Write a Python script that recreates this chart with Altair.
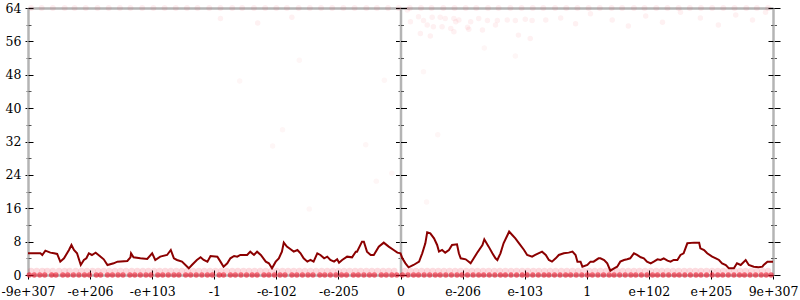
import altair as alt
import pandas as pd

# ---------------- data ----------------
x_labels = ["-9e+307", "-e+206", "-e+103", "-1", "-e-102", "-e-205", "0",
            "e-206", "e-103", "1", "e+102", "e+205", "9e+307"]
x_ticks = [-6, -5, -4, -3, -2, -1, 0, 1, 2, 3, 4, 5, 6]
y_ticks = [0, 4, 8, 12, 16, 20, 24, 28, 32, 36, 40, 44, 48, 52, 56, 60, 64]

line_x = [-6.0, -5.80, -5.77, -5.72, -5.64, -5.58, -5.53, -5.48, -5.42, -5.34,
          -5.30, -5.26, -5.21, -5.15, -5.10, -5.06, -5.02, -4.97, -4.91, -4.83,
          -4.78, -4.72, -4.62, -4.56, -4.40, -4.35, -4.34, -4.30, -4.19, -4.08,
          -4.00, -3.95, -3.87, -3.76, -3.70, -3.65, -3.60, -3.52, -3.41, -3.36,
          -3.28,
          -3.22, -3.17, -3.11, -3.06, -2.95, -2.90, -2.85, -2.79, -2.74, -2.68,
          -2.63, -2.58, -2.47, -2.42, -2.36, -2.31, -2.25, -2.17, -2.12, -2.07,
          -2.01, -1.96, -1.91, -1.88, -1.83, -1.77, -1.72, -1.66, -1.61, -1.56,
          -1.50, -1.45, -1.40, -1.34, -1.29, -1.23, -1.18, -1.13, -1.07, -1.02,
          -0.99, -0.94, -0.86, -0.78, -0.72, -0.70, -0.62, -0.59, -0.54, -0.48,
          -0.43, -0.35, -0.27, -0.19, -0.11, -0.05, 0.0,
          0.03, 0.08, 0.13, 0.21, 0.30, 0.35, 0.40, 0.43, 0.48, 0.54,
          0.59, 0.62, 0.67, 0.72, 0.78, 0.83, 0.91, 0.94, 0.97, 1.05,
          1.10, 1.13, 1.18, 1.23, 1.32, 1.35, 1.42, 1.48, 1.53, 1.56,
          1.61, 1.66, 1.75, 1.80, 1.85, 1.91, 1.99, 2.04, 2.12, 2.17,
          2.28, 2.34, 2.39, 2.44, 2.50, 2.55, 2.63, 2.71, 2.77, 2.82,
          2.85, 2.90, 2.93, 3.01, 3.06, 3.11, 3.19,
          3.22, 3.28, 3.33, 3.38, 3.44, 3.49, 3.54, 3.60, 3.65, 3.70,
          3.76, 3.81, 3.87, 3.92, 3.97, 4.03, 4.08, 4.14, 4.19, 4.24,
          4.30, 4.35, 4.40, 4.46, 4.51, 4.56, 4.62, 4.73, 4.81, 4.83,
          4.89, 4.94, 5.02, 5.08, 5.13, 5.18, 5.24, 5.29, 5.37, 5.42,
          5.48, 5.56, 5.61, 5.69, 5.77, 5.83, 5.85, 5.91, 6.0]
line_y = [5.2, 5.2, 4.8, 5.84, 5.36, 5.2, 5.04, 3.2, 4.0, 6.0,
          7.2, 6.0, 5.2, 2.4, 3.6, 4.0, 5.2, 4.8, 5.36, 4.4,
          3.76, 2.4, 2.8, 3.2, 3.36, 4.24, 5.2, 4.24, 4.0, 3.84,
          5.2, 3.6, 4.4, 4.8, 6.0, 4.0, 3.6, 3.2, 1.6, 2.4,
          3.6,
          4.24, 3.6, 3.2, 4.56, 4.4, 3.2, 2.0, 2.8, 4.0, 4.56,
          4.4, 4.8, 4.8, 5.6, 4.8, 5.6, 4.8, 3.2, 2.8, 1.6,
          3.2, 4.0, 5.6, 7.76, 6.8, 6.16, 5.6, 6.0, 5.2, 4.0,
          3.2, 3.6, 3.2, 5.2, 4.8, 4.0, 4.4, 3.6, 3.2, 3.76,
          2.96, 3.6, 4.4, 4.24, 5.6, 5.6, 8.0, 8.0, 5.6, 4.8,
          4.8, 6.8, 7.76, 6.8, 6.0, 5.36, 5.2,
          4.0, 2.8, 1.84, 2.4, 3.2, 5.2, 7.6, 10.24, 10.0, 8.8,
          7.2, 5.6, 6.0, 5.36, 6.0, 7.2, 7.36, 5.2, 4.0, 3.76,
          3.2, 2.8, 4.0, 5.2, 7.2, 8.56, 6.8, 5.2, 4.0, 3.6,
          5.2, 7.6, 10.4, 9.6, 8.8, 7.6, 6.0, 4.8, 4.4, 4.8,
          5.6, 4.8, 3.6, 3.2, 4.0, 4.8, 5.2, 5.36, 5.6, 4.8,
          3.2, 3.2, 2.0, 2.4, 3.2, 3.2, 4.0,
          4.0, 3.6, 2.8, 1.04, 1.6, 2.0, 3.2, 3.6, 3.76, 4.0,
          5.2, 4.8, 4.24, 4.0, 3.2, 2.8, 3.2, 3.76, 3.6, 4.0,
          3.44, 3.2, 3.6, 3.6, 4.8, 5.2, 7.6, 7.76, 7.76, 6.4,
          6.0, 5.2, 4.4, 4.0, 3.6, 2.8, 2.4, 1.6, 1.6, 2.8,
          2.4, 3.6, 2.4, 2.0, 1.84, 2.0, 2.4, 3.2, 3.2]

# samples whose value is 0
zero_x = [-5.98, -5.9, -5.81, -5.73, -5.62, -5.55, -5.44, -5.36, -5.27, -5.18,
          -5.09, -5.01, -4.9, -4.83, -4.72, -4.64, -4.55, -4.47, -4.36, -4.28,
          -4.19, -4.1, -4.02, -3.91, -3.83, -3.74, -3.65, -3.57, -3.46, -3.38,
          -3.29, -3.2, -3.11, -3.03, -2.92, -2.85, -2.74, -2.66, -2.57, -2.48,
          -2.39, -2.31, -2.2, -2.12, -2.03, -1.94, -1.86, -1.75, -1.67, -1.58,
          -1.49, -1.41, -1.3, -1.22, -1.13, -1.04, -0.95, -0.87, -0.76, -0.68,
          -0.59, -0.5, -0.42, -0.31, -0.23, -0.14, -0.06, 0.03, 0.12, 0.21,
          0.29, 0.38, 0.47, 0.56, 0.64, 0.73, 0.82, 0.91, 0.99, 1.08,
          1.17, 1.26, 1.34, 1.43, 1.52, 1.61, 1.69, 1.78, 1.87, 1.96,
          2.04, 2.13, 2.22, 2.31, 2.39, 2.48, 2.57, 2.66, 2.74, 2.83,
          2.92, 3.01, 3.09, 3.18, 3.27, 3.36, 3.44, 3.53, 3.62, 3.71,
          3.79, 3.88, 3.97, 4.06, 4.14, 4.23, 4.32, 4.41, 4.49, 4.58,
          4.67, 4.76, 4.84, 4.93, 5.02, 5.11, 5.19, 5.28, 5.37, 5.46,
          5.54, 5.63, 5.72, 5.81, 5.89, 5.97]
# samples whose value is 1
one_x = [-5.95, -5.86, -5.77, -5.69, -5.6, -5.5, -5.41, -5.33, -5.23, -5.14,
         -5.05, -4.96, -4.87, -4.78, -4.69, -4.6, -4.51, -4.42, -4.33, -4.24,
         -4.15, -4.06, -3.97, -3.88, -3.79, -3.7, -3.61, -3.52, -3.43, -3.34,
         -3.25, -3.16, -3.07, -2.98, -2.89, -2.8, -2.71, -2.62, -2.53, -2.44,
         -2.35, -2.26, -2.17, -2.08, -1.99, -1.9, -1.81, -1.72, -1.63, -1.54,
         -1.45, -1.36, -1.27, -1.18, -1.09, -1.0, -0.91, -0.82, -0.73, -0.64,
         -0.55, -0.46, -0.37, -0.28, -0.19, -0.1, 0.07, 0.16, 0.25, 0.34,
         0.43, 0.52, 0.61, 0.7, 0.79, 0.88, 0.97, 1.06, 1.15, 1.24,
         1.33, 1.42, 1.51, 1.6, 1.69, 1.78, 1.87, 1.96, 2.05, 2.14,
         2.23, 2.32, 2.41, 2.5, 2.59, 2.68, 2.77, 2.86, 2.95, 3.04,
         3.13, 3.22, 3.31, 3.4, 3.49, 3.58, 3.67, 3.76, 3.85, 3.94,
         4.03, 4.12, 4.21, 4.3, 4.39, 4.48, 4.57, 4.66, 4.75, 4.84,
         4.93, 5.02, 5.11, 5.2, 5.29, 5.38, 5.47, 5.56, 5.65, 5.74,
         5.83, 5.92]
# samples whose value is 64
top_row_x = [-5.95, -5.78, -5.6, -5.41, -5.25, -5.07, -4.88, -4.7, -4.52, -4.35,
             -4.16, -3.98, -3.8, -3.62, -3.44, -3.27, -3.08, -2.9, -2.71, -2.55,
             -2.36, -2.18, -2.0, -1.83, -1.64, -1.46, -1.28, -1.1, -0.92, -0.74,
             -0.55, -0.38, -0.2, -0.03, 0.15, 0.33, 0.5, 0.69, 0.87, 1.05,
             1.22, 1.41, 1.58, 1.77, 1.95, 2.13, 2.3, 2.49, 2.67, 2.85,
             3.03, 3.21, 3.4, 3.57, 3.76, 3.93, 4.12, 4.3, 4.48, 4.66,
             4.84, 5.02, 5.2, 5.38, 5.57, 5.74, 5.92]
# scattered samples just below the top
top_x = [0.11, 0.29, 0.37, 0.51, 0.64, 0.72, 0.86, 0.89, 0.94, 1.13,
         1.26, 1.40, 1.56, 1.72, 1.85, 2.01, 2.12, 2.34, 0.16, 0.43,
         0.53, 0.67, 0.81, 1.08, 1.32, 0.32, 0.48, 0.86, 1.10, 1.53,
         1.90, 2.09, 2.58, 2.82, 3.06, 3.41, 3.67, 3.95, 4.22, 4.51,
         4.83, 5.12, 5.40, 5.67, 5.88, -2.9, -2.3, -1.75]
top_y = [63.5, 61.9, 61.0, 61.8, 61.8, 61.5, 61.5, 60.7, 61.1, 60.7,
         61.5, 61.0, 61.0, 61.1, 61.0, 61.3, 61.0, 61.1, 60.7, 59.9,
         59.5, 59.5, 59.1, 59.4, 58.7, 57.9, 57.3, 58.3, 58.9, 59.9,
         57.5, 56.7, 61.6, 60.2, 62.6, 61.1, 59.7, 62.1, 60.6, 63.0,
         61.6, 59.9, 62.3, 61.1, 63.0, 61.5, 60.4, 61.8]
# stray samples in the middle
mid_x = [-1.63, -2.59, -0.26, 0.37, -1.90, -2.06, -0.56, 0.60, -0.14, -0.39,
         0.42, -1.47, 1.35, 1.85]
mid_y = [51.5, 46.5, 46.7, 48.7, 34.8, 30.9, 31.2, 33.6, 24.4, 22.5,
         17.5, 15.8, 54.4, 52.5]

# ---------------- styling ----------------
FONT = "DejaVu Serif"
W, H = 745, 267
GRAY = "#b4b4b4"
POINT = "#ee0f25"

xs = alt.Scale(domain=[-6, 6], nice=False, zero=False)
ys = alt.Scale(domain=[0, 64], nice=False, zero=False)

x_label_expr = "[" + ",".join("'" + s + "'" for s in x_labels) + "][round(datum.value) + 6]"
MINOR = "datum.value % 8 !== 0"


def yaxis(orient, offset, size, minor, domain=False, labels=False):
    kw = dict(orient=orient, offset=offset, values=y_ticks, title=None, grid=False,
              domain=domain, domainColor=GRAY, domainWidth=2.5,
              tickSize=size, tickWidth=1,
              tickColor={"condition": {"test": MINOR, "value": "#555555"}, "value": "#000000"},
              tickDash={"condition": {"test": MINOR, "value": [minor, 40]}, "value": [40, 0]},
              labels=labels)
    if labels:
        kw.update(labelExpr="datum.value % 8 === 0 ? datum.label : ''",
                  labelFont=FONT, labelFontSize=12.5, labelColor="#000000",
                  labelPadding=4)
    return alt.Axis(**kw)


def xaxis(orient, offset, size, domain=False, labels=False, ticks=True):
    kw = dict(orient=orient, offset=offset, values=x_ticks, title=None, grid=False,
              domain=domain, domainColor=GRAY, domainWidth=2.5,
              ticks=ticks, tickSize=size, tickColor="#000000", tickWidth=1,
              labels=labels)
    if labels:
        kw.update(labelExpr=x_label_expr, labelFont=FONT, labelFontSize=12.5,
                  labelColor="#000000", labelPadding=6, labelOverlap=False,
                  labelFlush=False)
    return alt.Axis(**kw)


def enc(chart, xa, ya):
    return chart.encode(
        x=alt.X("x:Q", scale=xs, axis=xa),
        y=alt.Y("y:Q", scale=ys, axis=ya),
    )


df_zero = pd.DataFrame({"x": zero_x, "y": [0] * len(zero_x)})
df_one = pd.DataFrame({"x": one_x, "y": [1] * len(one_x)})
df_toprow = pd.DataFrame({"x": top_row_x, "y": [64] * len(top_row_x)})
df_top = pd.DataFrame({"x": top_x, "y": top_y})
df_mid = pd.DataFrame({"x": mid_x, "y": mid_y})
df_line = pd.DataFrame({"x": line_x, "y": line_y})

l_zero = enc(alt.Chart(df_zero).mark_circle(size=28, color=POINT, opacity=0.6),
             xaxis("bottom", 0, 4, domain=True, labels=True),
             yaxis("left", 0, 3, 2, domain=True, labels=True))
l_one = enc(alt.Chart(df_one).mark_circle(size=40, color=POINT, opacity=0.15),
            xaxis("top", -H, 5),
            yaxis("right", -W, 5, 3))
l_toprow = enc(alt.Chart(df_toprow).mark_circle(size=34, color=POINT, opacity=0.07),
               xaxis("top", 0, 0, domain=True, ticks=False),
               yaxis("left", -W / 2, 5, 2.5, domain=True))
l_top = enc(alt.Chart(df_top).mark_circle(size=30, color=POINT, opacity=0.06),
            None,
            yaxis("right", -W / 2, 6, 3))
l_mid = enc(alt.Chart(df_mid).mark_circle(size=30, color=POINT, opacity=0.04),
            None,
            yaxis("right", 0, 7, 3.5, domain=True))
l_line = enc(alt.Chart(df_line).mark_line(color="#8b0000", strokeWidth=2),
             None,
             yaxis("left", -W, 5, 2.5))

chart = (
    alt.layer(l_zero, l_one, l_toprow, l_top, l_mid, l_line)
    .resolve_axis(x="independent", y="independent")
    .properties(width=W, height=H, autosize="none",
                padding={"left": 28, "top": 8, "right": 27, "bottom": 25},
                background="white")
    .configure_view(stroke=None)
)

chart.save("out.html", embed_options={"renderer": "svg", "actions": False})
